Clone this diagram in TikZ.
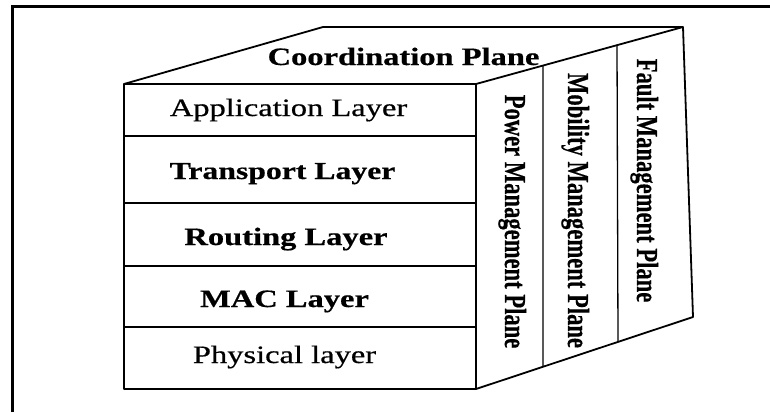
\documentclass[tikz,border=0pt]{standalone}
\usepackage{fontspec}
\setmainfont{Liberation Serif}
\begin{document}
\begin{tikzpicture}[x=1pt,y=-1pt,
  frameline/.style={line width=3pt},
  edge/.style={line width=1.8pt, line join=round},
  inner/.style={line width=1.3pt},
  layertext/.style={anchor=base, inner sep=0pt, xscale=1.3,
    font=\fontsize{25}{30}\selectfont\addfontfeatures{FakeBold=0.5}},
  boldlayer/.style={layertext,
    font=\fontsize{25}{30}\selectfont\bfseries\addfontfeatures{FakeBold=0.5}},
  planetext/.style={anchor=base, inner sep=0pt, xscale=1.35, rotate=-90,
    font=\fontsize{22.6}{27}\selectfont\bfseries\addfontfeatures{FakeBold=0.5}}]
\useasboundingbox (0,0) rectangle (770,412);

% outer frame (left and top sides)
\coordinate (fb) at (12,412);
\coordinate (fc) at (12,7);
\coordinate (fr) at (770,7);
\draw[frameline] (fb) -- (fc) -- (fr);

% cube corners
\coordinate (ftl) at (124,84);
\coordinate (ftr) at (476,84);
\coordinate (fbl) at (124,389);
\coordinate (fbr) at (476,389);
\coordinate (btl) at (323,27);
\coordinate (btr) at (683,27);
\coordinate (bbr) at (693,317);

% layer separators on the front face
\coordinate (l1a) at (124,136); \coordinate (l1b) at (476,136);
\coordinate (l2a) at (124,203); \coordinate (l2b) at (476,203);
\coordinate (l3a) at (124,266); \coordinate (l3b) at (476,266);
\coordinate (l4a) at (124,327); \coordinate (l4b) at (476,327);

% plane separators on the side face
\coordinate (d1t) at (543,65.6); \coordinate (d1b) at (543,366.8);
\coordinate (d2t) at (617,45.2); \coordinate (d2b) at (618,341);

\draw[inner] (l1a) -- (l1b) (l2a) -- (l2b) (l3a) -- (l3b) (l4a) -- (l4b);
\draw[inner] (d1t) -- (d1b) (d2t) -- (d2b);

\draw[edge] (ftl) rectangle (fbr);
\draw[edge] (ftl) -- (btl) -- (btr) -- (ftr);
\draw[edge] (btr) -- (bbr) -- (fbr);

% labels
\node[boldlayer] (coord) at (403.5,65) {Coordination Plane};
\node[layertext] (app) at (288.5,116) {Application Layer};
\node[boldlayer, font=\fontsize{24.4}{30}\selectfont\bfseries\addfontfeatures{FakeBold=0.5}] (trans) at (282.5,179) {Transport Layer};
\node[boldlayer] (rout) at (286,245) {Routing Layer};
\node[boldlayer] (mac) at (284.5,307) {MAC Layer};
\node[layertext] (phy) at (284.5,363) {Physical layer};

\node[planetext] (power) at (505,221.5) {Power Management Plane};
\node[planetext] (mob) at (568,210.5) {Mobility Management Plane};
\node[planetext] (fault) at (637,180.5) {Fault Management Plane};
\end{tikzpicture}
\end{document}
